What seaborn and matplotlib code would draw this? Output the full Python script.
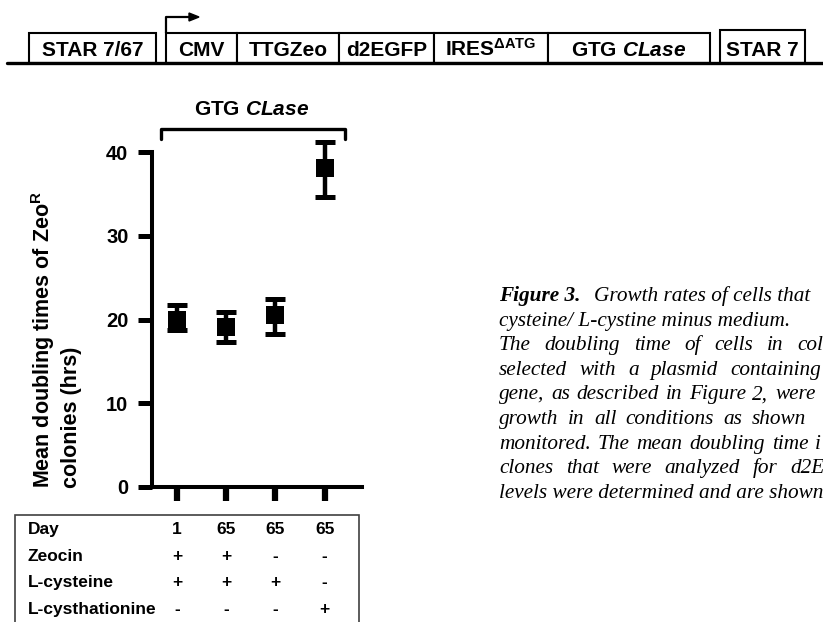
import matplotlib
matplotlib.use("Agg")
import matplotlib.pyplot as plt
import matplotlib.transforms as mtransforms
from matplotlib.lines import Line2D
from matplotlib.patches import Polygon, Rectangle
import pandas as pd
import seaborn as sns

# figure size in pixels (dpi 100)
W, H = 823, 622

# ---- data ----
positions = [0, 1, 2, 3]
mean_doubling = [20.0, 19.1, 20.5, 38.1]
err_low = [1.3, 1.8, 2.2, 3.5]
err_high = [1.7, 1.8, 2.0, 3.1]
y_ticks = [0, 10, 20, 30, 40]

table_rows = ["Day", "Zeocin", "L-cysteine", "L-cysthationine"]
table_day = ["1", "65", "65", "65"]
table_zeocin = ["+", "+", "-", "-"]
table_cysteine = ["+", "+", "+", "-"]
table_cysthationine = ["-", "-", "-", "+"]

construct_labels = ["STAR 7/67", "CMV", "TTGZeo", "d2EGFP", "IRES$^{ΔATG}$",
                    "GTG $\\mathit{CLase}$", "STAR 7"]

caption_lines = [
    "cysteine/ L-cystine minus medium.",
    "The doubling time of cells in col",
    "selected with a plasmid containing",
    "gene, as described in Figure 2, were",
    "growth in all conditions as shown",
    "monitored. The mean doubling time i",
    "clones that were analyzed for d2E",
    "levels were determined and are shown",
]

# ---- layout (pixels from top-left) ----
box_edges = [(29, 156), (166, 237), (237, 339), (339, 434), (434, 548),
             (548, 710), (720, 805)]
box_tops = [33, 33, 33, 33, 33, 33, 30]
# start of the last word for justified caption lines
caption_last_x = [None, 797, 730, 775, 752, 815, 790, None]
row_baselines = [534, 561, 587, 614]


def fx(x):
    return x / W


def fy(y):
    return 1 - y / H


sns.set_theme(style="ticks")
plt.rcParams["font.family"] = ["Liberation Sans", "DejaVu Sans"]
plt.rcParams["font.weight"] = "bold"
plt.rcParams["mathtext.fontset"] = "custom"
plt.rcParams["mathtext.rm"] = "Liberation Sans:bold"
plt.rcParams["mathtext.bf"] = "Liberation Sans:bold"
plt.rcParams["mathtext.it"] = "Liberation Sans:bold:italic"
plt.rcParams["mathtext.default"] = "rm"

fig = plt.figure(figsize=(W / 100, H / 100), dpi=100)
fig.patch.set_facecolor("white")

# ---- main plot ----
ax = fig.add_axes([fx(152), fy(487), (362 - 152) / W, (487 - 152) / H])
ax.set_facecolor("white")
df = pd.DataFrame({"pos": positions, "mean": mean_doubling})
ax.errorbar(df["pos"], df["mean"], yerr=[err_low, err_high], fmt="none",
            ecolor="black", elinewidth=3.2, capsize=7.4, capthick=3.6,
            clip_on=False, zorder=2)
sns.scatterplot(data=df, x="pos", y="mean", marker="s", s=165, color="black",
                linewidth=0, ax=ax, zorder=3, clip_on=False)

ax.set_xlim(-0.51, 3.76)
ax.set_ylim(0, 40)
ax.set_xticks(positions)
ax.set_xticklabels([])
ax.set_yticks(y_ticks)
ax.set_xlabel("")
ax.set_ylabel("")
sns.despine(ax=ax)
for side in ["left", "bottom"]:
    ax.spines[side].set_linewidth(2.9)
    ax.spines[side].set_color("black")
ax.tick_params(axis="y", direction="out", length=10, width=3.6, color="black",
               labelsize=14.5, pad=7, labelcolor="black")
ax.tick_params(axis="x", direction="out", length=10, width=4.5, color="black")

# bracket above the points
bx0, bx1, by0, by1 = 161, 345, 129, 139
fig.add_artist(Line2D([fx(bx0), fx(bx0), fx(bx1), fx(bx1)],
                      [fy(by1), fy(by0), fy(by0), fy(by1)],
                      transform=fig.transFigure, color="black", lw=2.4))
fig.text(fx(252), fy(115), "GTG $\\mathit{CLase}$", ha="center", va="baseline",
         fontsize=15, color="black")

# y label, two lines
fig.text(fx(43), fy(488), "Mean doubling times of Zeo$^{R}$", rotation=90,
         ha="center", va="bottom", fontsize=15.5, color="black")
fig.text(fx(71), fy(488), "colonies (hrs)", rotation=90,
         ha="center", va="bottom", fontsize=15.5, color="black")

# ---- condition table ----
fig.add_artist(Rectangle((fx(15), fy(640)), (359 - 15) / W, (640 - 515) / H,
                         transform=fig.transFigure, fill=False,
                         edgecolor="#404040", lw=1.2))
col_trans = mtransforms.blended_transform_factory(ax.transData, fig.transFigure)
table_values = [table_day, table_zeocin, table_cysteine, table_cysthationine]
for label, values, yb in zip(table_rows, table_values, row_baselines):
    fig.text(fx(28), fy(yb), label, ha="left", va="baseline", fontsize=12.5,
             color="black")
    for p, v in zip(positions, values):
        ax.text(p, fy(yb), v, transform=col_trans, ha="center", va="baseline",
                fontsize=12.5, color="black", clip_on=False)

# ---- construct diagram ----
fig.add_artist(Line2D([fx(7), fx(823)], [fy(63), fy(63)],
                      transform=fig.transFigure, color="black", lw=2.4))
for (x0, x1), top, label in zip(box_edges, box_tops, construct_labels):
    fig.add_artist(Rectangle((fx(x0), fy(63)), (x1 - x0) / W, (63 - top) / H,
                             transform=fig.transFigure, facecolor="white",
                             edgecolor="black", lw=1.5))
    fig.text(fx((x0 + x1) / 2), fy(56), label, ha="center", va="baseline",
             fontsize=15, color="black")
# promoter arrow
fig.add_artist(Line2D([fx(166), fx(166), fx(191)], [fy(33), fy(17), fy(17)],
                      transform=fig.transFigure, color="black", lw=1.6))
fig.add_artist(Polygon([(fx(189), fy(13)), (fx(199), fy(17)), (fx(189), fy(21))],
                       closed=True, transform=fig.transFigure, color="black"))

# ---- caption ----
serif = ["Liberation Serif", "DejaVu Serif"]
cap_size = 15.3
cap_x0, cap_y0, cap_dy = 499, 301, 24.6
fig.text(fx(cap_x0), fy(cap_y0), "Figure 3.", family=serif, style="italic",
         weight="bold", fontsize=cap_size, ha="left", va="baseline",
         color="black")
fig.text(fx(594), fy(cap_y0), "Growth rates of cells that", family=serif,
         style="italic", weight="normal", fontsize=cap_size, ha="left",
         va="baseline", color="black")

renderer = fig.canvas.get_renderer()
for i, (line, x_last) in enumerate(zip(caption_lines, caption_last_x), start=1):
    yb = fy(cap_y0 + i * cap_dy)
    kw = dict(family=serif, style="italic", weight="normal", fontsize=cap_size,
              ha="left", va="baseline", color="black")
    if x_last is None:
        fig.text(fx(cap_x0), yb, line, **kw)
        continue
    # spread the words so the line is justified
    words = line.split(" ")
    arts = [fig.text(0, yb, w, **kw) for w in words]
    widths = [a.get_window_extent(renderer).width for a in arts]
    gap = (x_last - cap_x0 - sum(widths[:-1])) / (len(words) - 1)
    x = cap_x0
    for a, wd in zip(arts, widths):
        a.set_x(fx(x))
        x += wd + gap

fig.savefig("out.png", dpi=100)
